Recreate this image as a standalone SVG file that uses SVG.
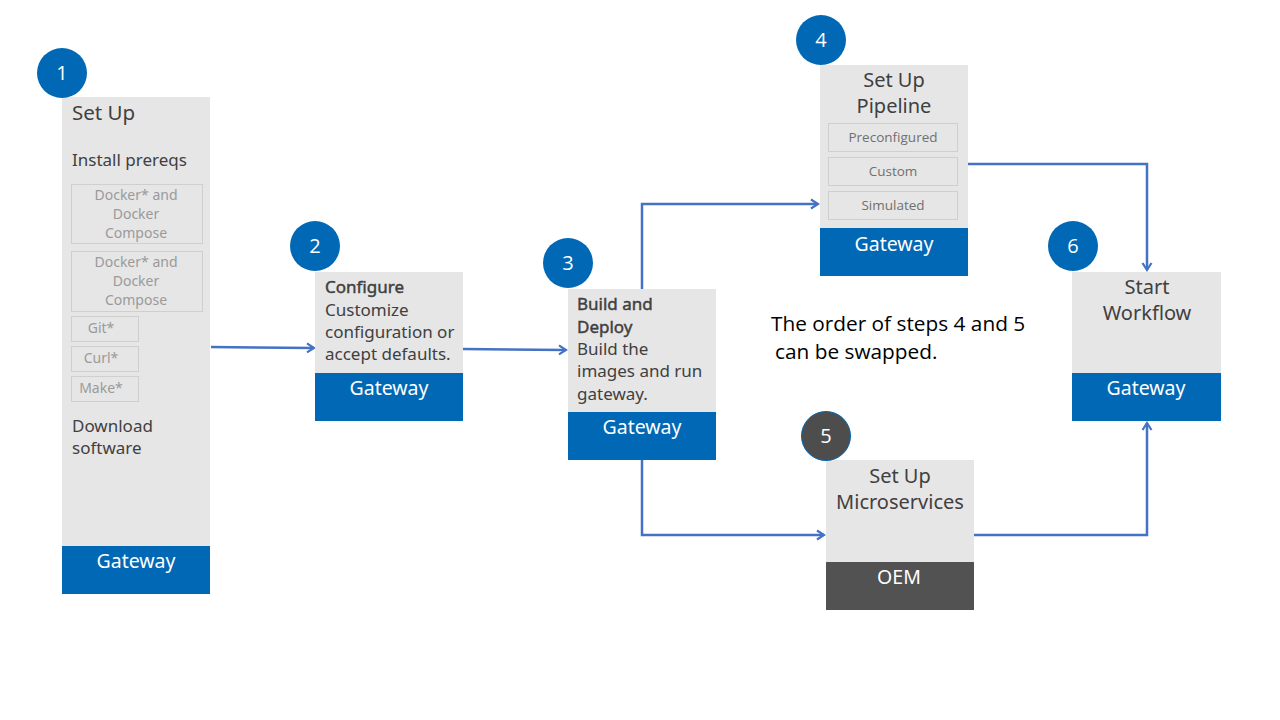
<svg xmlns="http://www.w3.org/2000/svg" width="1280" height="720" viewBox="0 0 1280 720">
<defs>
<marker id="arr" viewBox="0 0 12 12" refX="10" refY="6" markerWidth="12" markerHeight="12" markerUnits="userSpaceOnUse" orient="auto">
<polyline points="3,1.5 10,6 3,10.5" fill="none" stroke="#4472c4" stroke-width="2.2"/>
</marker>
<style>
.box{fill:#e6e6e6}
.blue{fill:#0068b5}
.dark{fill:#525252}
.sub{fill:none;stroke:#cfcfcf;stroke-width:1}
.t{font-family:"Noto Sans","Liberation Sans",sans-serif;fill:#404040;font-size:17px}
.big{font-size:20.5px}
.tb{font-family:"Noto Sans","Liberation Sans",sans-serif;fill:#404040;font-size:17px;stroke:#404040;stroke-width:0.45}
.tc{font-family:"Noto Sans","Liberation Sans",sans-serif;fill:#404040;font-size:20px;text-anchor:middle}
.s{font-family:"Noto Sans","Liberation Sans",sans-serif;fill:#9a9a9a;font-size:14px;text-anchor:middle}
.s4{font-family:"Open Sans","Liberation Sans",sans-serif;fill:#707070;font-size:13.5px;text-anchor:middle}
.w{font-family:"Noto Sans","Liberation Sans",sans-serif;fill:#ffffff;font-size:19.5px;text-anchor:middle}
.num{font-family:"Open Sans","Liberation Sans",sans-serif;fill:#ffffff;font-size:20px;text-anchor:middle}
.c{fill:#0068b5}
.c5{fill:#4d4d4d;stroke:#0068b5;stroke-width:1}
.note{font-family:"Open Sans","Liberation Sans",sans-serif;fill:#000;font-size:20.8px}
.ln{fill:none;stroke:#4472c4;stroke-width:2.5;marker-end:url(#arr)}
</style>
</defs>
<g id="connectors">
<path class="ln" d="M211,347 L314,348"/>
<path class="ln" d="M463,349 L566,350"/>
<path class="ln" d="M642,289 L642,204 L818,204"/>
<path class="ln" d="M642,460 L642,535 L824,535"/>
<path class="ln" d="M968,164 L1147,164 L1147,270"/>
<path class="ln" d="M974,535 L1147,535 L1147,423"/>
</g>
<g id="node1">
<rect class="box" x="62" y="97" width="148" height="449"/>
<rect class="blue" x="62" y="546" width="148" height="48"/>
<circle class="c" cx="62" cy="73" r="25"/>
<text class="num" x="62" y="80">1</text>
<text class="t big" x="72" y="120">Set Up</text>
<text class="t" x="72" y="166">Install prereqs</text>
<rect class="sub" x="71.5" y="184.5" width="131" height="59"/>
<text class="s" x="136" y="200">Docker* and</text>
<text class="s" x="136" y="219">Docker</text>
<text class="s" x="136" y="238">Compose</text>
<rect class="sub" x="71.5" y="251.5" width="131" height="60"/>
<text class="s" x="136" y="267">Docker* and</text>
<text class="s" x="136" y="286">Docker</text>
<text class="s" x="136" y="305">Compose</text>
<rect class="sub" x="71.5" y="316.5" width="67" height="25"/>
<text class="s" x="101" y="333">Git*</text>
<rect class="sub" x="71.5" y="346.5" width="67" height="25"/>
<text class="s" x="101" y="363">Curl*</text>
<rect class="sub" x="71.5" y="376.5" width="67" height="25"/>
<text class="s" x="101" y="393">Make*</text>
<text class="t" x="72" y="432">Download</text>
<text class="t" x="72" y="454">software</text>
<text class="w" x="136" y="568">Gateway</text>
</g>
<g id="node2">
<rect class="box" x="315" y="272" width="148" height="101"/>
<rect class="blue" x="315" y="373" width="148" height="48"/>
<circle class="c" cx="315" cy="246" r="25"/>
<text class="num" x="315" y="253">2</text>
<text class="tb" x="325" y="293">Configure</text>
<text class="t" x="325" y="316">Customize</text>
<text class="t" x="325" y="338">configuration or</text>
<text class="t" x="325" y="360">accept defaults.</text>
<text class="w" x="389" y="395">Gateway</text>
</g>
<g id="node3">
<rect class="box" x="568" y="289" width="148" height="123"/>
<rect class="blue" x="568" y="412" width="148" height="48"/>
<circle class="c" cx="568" cy="263" r="25"/>
<text class="num" x="568" y="270">3</text>
<text class="tb" x="577" y="310">Build and</text>
<text class="tb" x="577" y="333">Deploy</text>
<text class="t" x="577" y="355">Build the</text>
<text class="t" x="577" y="377">images and run</text>
<text class="t" x="577" y="400">gateway.</text>
<text class="w" x="642" y="434">Gateway</text>
</g>
<g id="node4">
<rect class="box" x="820" y="65" width="148" height="163"/>
<rect class="blue" x="820" y="228" width="148" height="48"/>
<circle class="c" cx="821" cy="40" r="25"/>
<text class="num" x="821" y="47">4</text>
<text class="tc" x="894" y="87">Set Up</text>
<text class="tc" x="894" y="113">Pipeline</text>
<rect class="sub" x="828.5" y="123.5" width="129" height="28"/>
<text class="s4" x="893" y="142">Preconfigured</text>
<rect class="sub" x="828.5" y="157.5" width="129" height="28"/>
<text class="s4" x="893" y="176">Custom</text>
<rect class="sub" x="828.5" y="191.5" width="129" height="28"/>
<text class="s4" x="893" y="210">Simulated</text>
<text class="w" x="894" y="251">Gateway</text>
</g>
<g id="node5">
<rect class="box" x="826" y="460" width="148" height="102"/>
<rect class="dark" x="826" y="562" width="148" height="48"/>
<circle class="c5" cx="826" cy="436" r="24.5"/>
<text class="num" x="826" y="443">5</text>
<text class="tc" x="900" y="483">Set Up</text>
<text class="tc" x="900" y="509">Microservices</text>
<text class="w" x="899" y="584">OEM</text>
</g>
<g id="node6">
<rect class="box" x="1072" y="272" width="149" height="101"/>
<rect class="blue" x="1072" y="373" width="149" height="48"/>
<circle class="c" cx="1073" cy="246" r="25"/>
<text class="num" x="1073" y="253">6</text>
<text class="tc" x="1147" y="294">Start</text>
<text class="tc" x="1147" y="320">Workflow</text>
<text class="w" x="1146" y="395">Gateway</text>
</g>
<g id="note">
<text class="note" x="771" y="331">The order of steps 4 and 5</text>
<text class="note" x="775" y="359">can be swapped.</text>
</g>
</svg>
